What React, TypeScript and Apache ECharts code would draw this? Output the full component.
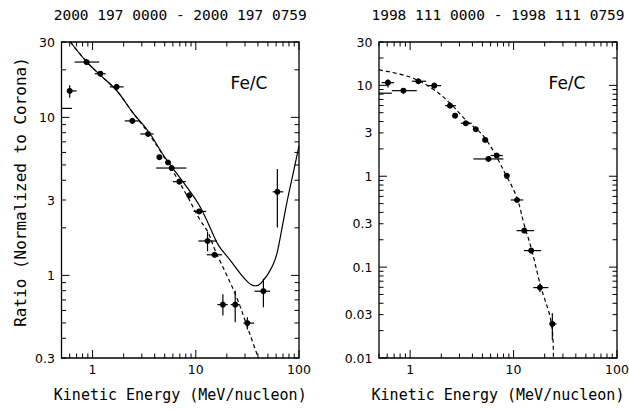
import React, { useEffect, useRef } from "react";
import * as echarts from "echarts";

const titles = ["2000 197 0000 - 2000 197 0759", "1998 111 0000 - 1998 111 0759"];
const xName = "Kinetic Energy (MeV/nucleon)";
const yName = "Ratio (Normalized to Corona)";
const panelLabel = "Fe/C";

const xRange = [0.5, 100];
const leftYRange = [0.3, 30];
const rightYRange = [0.01, 30];

const xTickLabels = [1, 10, 100];
const leftYTickLabels = [0.3, 1, 3, 10, 30];
const rightYTickLabels = [0.01, 0.03, 0.1, 0.3, 1, 3, 10, 30];

// Left panel (2000 197) measurements
const leftE = [0.45, 0.6, 0.875, 1.19, 1.71, 2.43, 3.45, 4.44, 5.38, 5.84, 6.93, 8.65, 10.8, 13.0, 15.2, 61.7, 18.3, 24.1, 31.6, 45.2];
const leftR = [11.4, 14.7, 22.4, 18.9, 15.6, 9.5, 7.85, 5.6, 5.18, 4.78, 3.92, 3.21, 2.54, 1.65, 1.35, 3.38, 0.653, 0.653, 0.499, 0.794];
const leftELo = [0.36, 0.57, 0.67, 1.05, 1.47, 2.05, 2.9, 4.25, 5.1, 4.13, 6.0, 8.2, 9.5, 10.6, 12.8, 55.6, 16.2, 21.8, 28.9, 37.1];
const leftEHi = [0.63, 0.7, 1.16, 1.34, 2.0, 2.86, 3.9, 4.65, 5.7, 8.1, 8.0, 9.1, 12.6, 16.0, 18.0, 70.5, 20.4, 26.5, 36.8, 52.5];
const leftRLo = [11.4, 13.3, 22.4, 18.9, 15.6, 9.5, 7.85, 5.6, 5.18, 4.78, 3.92, 3.21, 2.54, 1.42, 1.35, 2.01, 0.557, 0.506, 0.455, 0.628];
const leftRHi = [11.4, 16.0, 22.4, 18.9, 15.6, 9.5, 7.85, 5.6, 5.18, 4.78, 3.92, 3.21, 2.54, 1.89, 1.35, 4.71, 0.76, 0.798, 0.544, 0.953];

const leftSolidE = [0.61, 0.875, 1.19, 1.71, 2.43, 3.45, 5.0, 6.93, 8.65, 10.8, 13, 16.5, 21.5, 26.9, 32.3, 35, 37.6, 40, 42.5, 45.2, 50.5, 56.4, 61.4, 68.5, 77.2, 88.3, 100];
const leftSolidR = [30, 22.5, 18.5, 14.8, 10.8, 8.2, 5.6, 4.2, 3.45, 2.78, 2.18, 1.56, 1.25, 1.03, 0.9, 0.87, 0.86, 0.865, 0.89, 0.93, 1.03, 1.18, 1.39, 2.0, 3.0, 4.5, 6.6];
const leftDashE = [0.61, 0.875, 1.19, 1.71, 2.43, 3.45, 5.5, 8, 11, 13, 15.2, 17, 20, 25, 30, 35, 40.4];
const leftDashR = [30, 22.5, 18.5, 14.8, 10.8, 8.0, 5.0, 3.3, 2.24, 1.9, 1.47, 1.25, 1.0, 0.72, 0.52, 0.39, 0.3];

// Right panel (1998 111) measurements
const rightE = [0.45, 0.61, 0.86, 1.2, 1.71, 2.43, 2.72, 3.45, 4.31, 5.31, 5.71, 6.88, 8.6, 10.8, 12.7, 14.8, 18.0, 23.7];
const rightR = [8.2, 10.7, 8.74, 11.1, 9.93, 5.98, 4.64, 3.83, 3.29, 2.51, 1.55, 1.69, 1.01, 0.548, 0.252, 0.152, 0.0595, 0.0237];
const rightELo = [0.38, 0.53, 0.665, 1.04, 1.47, 2.18, 2.6, 3.09, 4.1, 5.0, 4.09, 6.0, 8.2, 9.4, 10.7, 12.6, 15.5, 22.2];
const rightEHi = [0.665, 0.7, 1.16, 1.43, 1.99, 2.77, 2.85, 3.94, 4.5, 5.7, 7.97, 7.86, 9.0, 12.4, 15.8, 18.4, 21.7, 26.1];
const rightRLo = [8.2, 9.5, 8.2, 11.1, 9.93, 5.98, 4.64, 3.83, 3.29, 2.51, 1.55, 1.69, 1.01, 0.548, 0.252, 0.152, 0.053, 0.0159];
const rightRHi = [8.2, 11.7, 9.3, 11.1, 9.93, 5.98, 4.64, 3.83, 3.29, 2.51, 1.55, 1.69, 1.01, 0.548, 0.252, 0.152, 0.066, 0.031];

const rightDashE = [0.5, 1, 1.67, 2.43, 3.45, 5.31, 8.6, 10.8, 12.7, 14.8, 18.0, 23.7, 24.3];
const rightDashR = [14.8, 12.3, 9.06, 6.35, 4.16, 2.62, 0.99, 0.573, 0.29, 0.162, 0.066, 0.0203, 0.01];

const FONT_MONO = '"DejaVu Sans Mono", monospace';
const FONT_SANS = '"DejaVu Sans", sans-serif';

function logTicks(min: number, max: number): number[] {
  const out: number[] = [];
  for (let e = Math.floor(Math.log10(min)); e <= Math.ceil(Math.log10(max)); e++) {
    for (let m = 1; m <= 9; m++) {
      const v = m * Math.pow(10, e);
      if (v >= min * 0.999 && v <= max * 1.001) out.push(v);
    }
  }
  return out;
}
const isDecade = (v: number) => Math.abs(Math.log10(v) - Math.round(Math.log10(v))) < 1e-6;

function axesSeries(idx: number, yRange: number[], yLabels: number[]) {
  const xt = logTicks(xRange[0], xRange[1]);
  const yt = logTicks(yRange[0], yRange[1]);
  return {
    type: "custom",
    xAxisIndex: idx,
    yAxisIndex: idx,
    silent: true,
    clip: false,
    data: [[1, 1]],
    encode: { x: 0, y: 1 },
    renderItem: (params: any, api: any) => {
      const cs = params.coordSys;
      const left = cs.x, top = cs.y, right = cs.x + cs.width, bottom = cs.y + cs.height;
      const children: any[] = [];
      const st = { stroke: "#000", lineWidth: 1 };
      xt.forEach((v) => {
        const px = api.coord([v, 1])[0];
        const len = isDecade(v) ? 8 : 4.5;
        children.push({ type: "line", shape: { x1: px, y1: bottom, x2: px, y2: bottom - len }, style: st });
        children.push({ type: "line", shape: { x1: px, y1: top, x2: px, y2: top + len }, style: st });
      });
      yt.forEach((v) => {
        const py = api.coord([1, v])[1];
        const len = isDecade(v) ? 8 : 4.5;
        children.push({ type: "line", shape: { x1: left, y1: py, x2: left + len, y2: py }, style: st });
        children.push({ type: "line", shape: { x1: right, y1: py, x2: right - len, y2: py }, style: st });
      });
      xTickLabels.forEach((v) => {
        const px = api.coord([v, 1])[0];
        children.push({
          type: "text",
          x: px,
          y: bottom + 11,
          style: { text: String(v), fill: "#000", fontSize: 12.5, fontFamily: FONT_SANS, align: "center", verticalAlign: "middle", textAlign: "center", textVerticalAlign: "middle" },
        });
      });
      yLabels.forEach((v) => {
        const py = api.coord([1, v])[1];
        children.push({
          type: "text",
          x: left - 6.5,
          y: py,
          style: { text: String(v), fill: "#000", fontSize: 12.5, fontFamily: FONT_SANS, align: "right", verticalAlign: "middle", textAlign: "right", textVerticalAlign: "middle" },
        });
      });
      return { type: "group", children };
    },
  };
}

function errorSeries(idx: number, e: number[], r: number[], eLo: number[], eHi: number[], rLo: number[], rHi: number[]) {
  return {
    type: "custom",
    xAxisIndex: idx,
    yAxisIndex: idx,
    clip: true,
    data: e.map((v, i) => [v, r[i], eLo[i], eHi[i], rLo[i], rHi[i]]),
    encode: { x: 0, y: 1 },
    renderItem: (params: any, api: any) => {
      const x = api.value(0), y = api.value(1);
      const c = api.coord([x, y]);
      const l = api.coord([api.value(2), y]);
      const rr = api.coord([api.value(3), y]);
      const b = api.coord([x, api.value(4)]);
      const t = api.coord([x, api.value(5)]);
      const st = { stroke: "#000", lineWidth: 1.2 };
      return {
        type: "group",
        children: [
          { type: "line", shape: { x1: l[0], y1: c[1], x2: rr[0], y2: c[1] }, style: st },
          { type: "line", shape: { x1: c[0], y1: b[1], x2: c[0], y2: t[1] }, style: st },
          { type: "circle", shape: { cx: c[0], cy: c[1], r: 3 }, style: { fill: "#000" } },
        ],
      };
    },
  };
}

function curve(idx: number, e: number[], r: number[], dashed: boolean) {
  return {
    type: "line",
    xAxisIndex: idx,
    yAxisIndex: idx,
    data: e.map((v, i) => [v, r[i]]),
    showSymbol: false,
    symbol: "none",
    smooth: 0.4,
    clip: true,
    silent: true,
    lineStyle: { color: "#000", width: 1.2, type: dashed ? [4, 3] : "solid" },
  };
}

export default function App() {
  const ref = useRef<HTMLDivElement>(null);
  useEffect(() => {
    if (!ref.current) return;
    const chart = echarts.init(ref.current, undefined, { renderer: "svg" });
    const grids = [
      { left: 61.5, top: 42, width: 237.5, height: 316 },
      { left: 379, top: 42, width: 238, height: 316 },
    ];
    const yRanges = [leftYRange, rightYRange];
    chart.setOption({
      animation: false,
      backgroundColor: "#fff",
      grid: grids.map((g) => ({ ...g, show: true, borderColor: "#000", borderWidth: 1.3, backgroundColor: "transparent" })),
      xAxis: grids.map((_, i) => ({
        type: "log",
        logBase: 10,
        gridIndex: i,
        min: xRange[0],
        max: xRange[1],
        axisLine: { show: false },
        axisTick: { show: false },
        axisLabel: { show: false },
        splitLine: { show: false },
      })),
      yAxis: grids.map((_, i) => ({
        type: "log",
        logBase: 10,
        gridIndex: i,
        min: yRanges[i][0],
        max: yRanges[i][1],
        axisLine: { show: false },
        axisTick: { show: false },
        axisLabel: { show: false },
        splitLine: { show: false },
      })),
      graphic: [
        ...grids.map((g, i) => ({
          type: "text",
          x: g.left + g.width / 2,
          y: 14.5,
          style: { text: titles[i], fill: "#000", fontSize: 14.5, fontFamily: FONT_MONO, align: "center", verticalAlign: "middle", textAlign: "center", textVerticalAlign: "middle" },
        })),
        ...grids.map((g) => ({
          type: "text",
          x: g.left + g.width / 2,
          y: 395,
          style: { text: xName, fill: "#000", fontSize: 15, fontFamily: FONT_MONO, align: "center", verticalAlign: "middle", textAlign: "center", textVerticalAlign: "middle" },
        })),
        ...grids.map((g) => ({
          type: "text",
          x: g.left + g.width - 50,
          y: 83,
          style: { text: panelLabel, fill: "#000", fontSize: 17, fontFamily: FONT_SANS, align: "center", verticalAlign: "middle", textAlign: "center", textVerticalAlign: "middle" },
        })),
        {
          type: "text",
          x: 20,
          y: 192,
          rotation: Math.PI / 2,
          style: { text: yName, fill: "#000", fontSize: 16, fontFamily: FONT_MONO, align: "center", verticalAlign: "middle", textAlign: "center", textVerticalAlign: "middle" },
        },
      ],
      series: [
        axesSeries(0, leftYRange, leftYTickLabels),
        axesSeries(1, rightYRange, rightYTickLabels),
        curve(0, leftSolidE, leftSolidR, false),
        curve(0, leftDashE, leftDashR, true),
        curve(1, rightDashE, rightDashR, true),
        errorSeries(0, leftE, leftR, leftELo, leftEHi, leftRLo, leftRHi),
        errorSeries(1, rightE, rightR, rightELo, rightEHi, rightRLo, rightRHi),
      ],
    });
    return () => chart.dispose();
  }, []);
  return <div ref={ref} style={{ position: "fixed", left: 0, top: 0, width: 629, height: 410, background: "#fff" }} />;
}
